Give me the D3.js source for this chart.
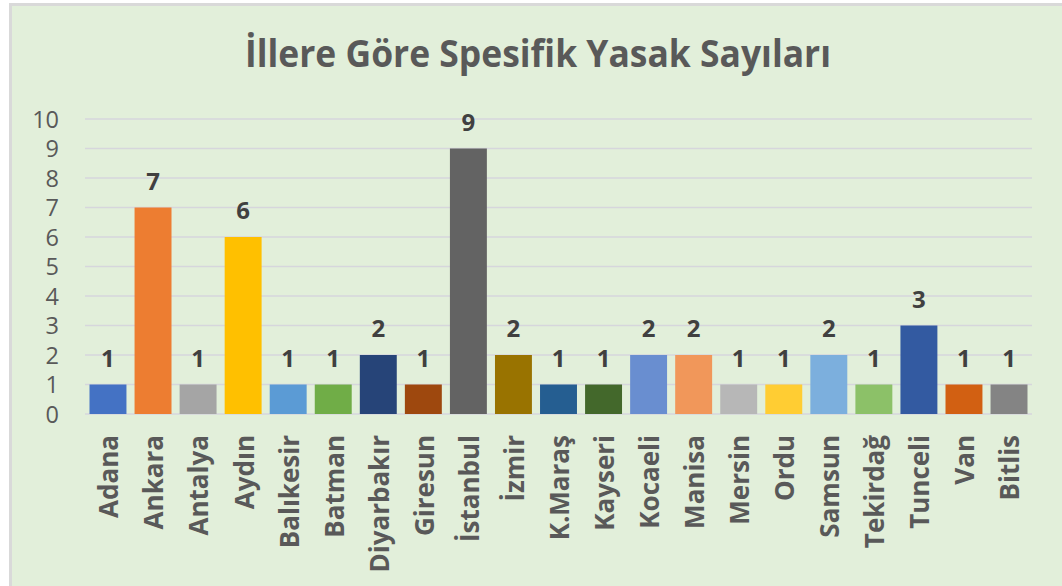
<!DOCTYPE html>
<html><head><meta charset="utf-8">
<script src="https://cdn.jsdelivr.net/npm/d3@7"></script>
<style>html,body{margin:0;padding:0;background:#fff;}svg{display:block;}</style>
</head><body>
<svg id="chart" width="1062" height="586"></svg>
<script>
const title = "İllere Göre Spesifik Yasak Sayıları";
const categories = ["Adana","Ankara","Antalya","Aydın","Balıkesir","Batman","Diyarbakır","Giresun","İstanbul","İzmir","K.Maraş","Kayseri","Kocaeli","Manisa","Mersin","Ordu","Samsun","Tekirdağ","Tunceli","Van","Bitlis"];
const values = [1,7,1,6,1,1,2,1,9,2,1,1,2,2,1,1,2,1,3,1,1];
const colors = ["#4472C4","#ED7D31","#A5A5A5","#FFC000","#5B9BD5","#70AD47","#264478","#9E480E","#636363","#997300","#255E91","#43682B","#698ED0","#F1975A","#B7B7B7","#FFCD33","#7CAFDD","#8CC168","#335AA1","#D26012","#848484"];
const yTicks = [0,1,2,3,4,5,6,7,8,9,10];

const svg = d3.select("#chart");
svg.append("rect").attr("x",0).attr("y",0).attr("width",1062).attr("height",586).attr("fill","#ffffff");
svg.append("rect").attr("x",9).attr("y",3).attr("width",1053).attr("height",583).attr("fill","#d9d9d9");
svg.append("rect").attr("x",12).attr("y",6).attr("width",1050).attr("height",580).attr("fill","#e2efda");

const font = "'Open Sans', 'DejaVu Sans', sans-serif";

const x = d3.scaleBand().domain(categories).range([85,1032]).paddingInner(0.18).paddingOuter(0.1);
const y = d3.scaleLinear().domain([0,10]).range([414,119]);

// gridlines
svg.append("g").selectAll("line").data(yTicks).join("line")
  .attr("x1",85).attr("x2",1032)
  .attr("y1",d=>y(d)).attr("y2",d=>y(d))
  .attr("stroke","#d6d6dc").attr("stroke-width",1.6);

// y axis labels
const yAxis = d3.axisLeft(y).tickValues(yTicks).tickSize(0).tickPadding(0);
const gy = svg.append("g").attr("transform","translate(59,0)").call(yAxis);
gy.select(".domain").remove();
gy.selectAll("text").attr("font-family",font).attr("font-size",23.5).attr("fill","#595959").attr("dy","0.35em");

// bars
svg.append("g").selectAll("rect").data(categories).join("rect")
  .attr("x",d=>x(d)).attr("width",x.bandwidth())
  .attr("y",(d,i)=>y(values[i])).attr("height",(d,i)=>y(0)-y(values[i]))
  .attr("fill",(d,i)=>colors[i]);

// value labels
svg.append("g").selectAll("text").data(categories).join("text")
  .attr("x",d=>x(d)+x.bandwidth()/2)
  .attr("y",(d,i)=>y(values[i])-18)
  .attr("text-anchor","middle")
  .attr("font-family",font).attr("font-weight","bold").attr("font-size",24)
  .attr("fill","#404040")
  .text((d,i)=>values[i]);

// x axis labels (rotated)
const xAxis = d3.axisBottom(x).tickSize(0).tickPadding(0);
const gx = svg.append("g").attr("transform","translate(0,435)").call(xAxis);
gx.select(".domain").remove();
gx.selectAll("text")
  .attr("font-family",font).attr("font-weight","bold").attr("font-size",26)
  .attr("fill","#595959")
  .attr("text-anchor","end")
  .attr("transform","rotate(-90)")
  .attr("x",0).attr("y",0).attr("dx",0).attr("dy","0.36em");
gx.selectAll(".tick").attr("transform",d=>`translate(${x(d)+x.bandwidth()/2+1},0)`);

// title
svg.append("text").attr("x",538).attr("y",67).attr("text-anchor","middle")
  .attr("font-family",font).attr("font-weight","bold").attr("font-size",38)
  .attr("fill","#595959")
  .attr("textLength",586).attr("lengthAdjust","spacingAndGlyphs")
  .text(title);
</script>
</body></html>
